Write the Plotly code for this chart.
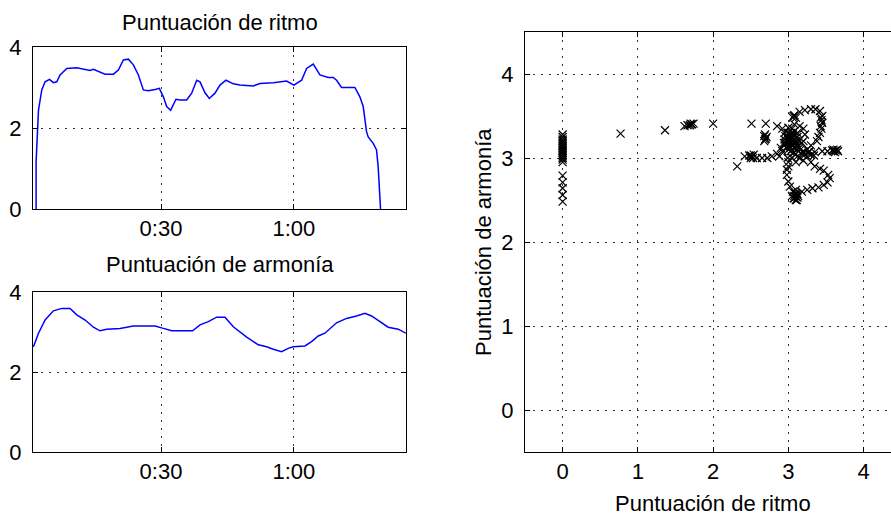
import plotly.graph_objects as go

# ---- data: rhythm score over time (seconds) ----
rhythm_t = [1.8, 1.8, 2.34, 2.7, 3.08, 3.83, 4.81, 5.71, 6.46, 7.22, 8.72, 10.98, 13.23, 13.98,
            14.74, 16.24, 17.37, 19.25, 20.37, 21.5, 22.63, 23.76, 24.89, 26.01, 27.14, 28.65,
            29.62, 30.53, 31.28, 32.18, 33.38, 34.29, 35.79, 36.92, 38.05, 38.8, 39.93, 40.9,
            42.18, 43.31, 44.66, 46.32, 47.82, 50.83, 52.33, 55.34, 58.35, 60.0, 61.73, 62.86,
            64.36, 65.87, 67.75, 68.88, 69.63, 70.75, 73.76, 74.89, 75.64, 76.39, 76.77, 77.9,
            78.65, 79.02, 79.4, 79.55]
rhythm_v = [0.0, 1.17, 2.44, 2.69, 2.94, 3.14, 3.2, 3.12, 3.14, 3.31, 3.47, 3.49, 3.44, 3.42,
            3.45, 3.39, 3.33, 3.33, 3.43, 3.68, 3.7, 3.56, 3.31, 2.94, 2.92, 2.95, 2.98, 2.77,
            2.53, 2.44, 2.71, 2.69, 2.69, 2.86, 3.18, 3.14, 2.87, 2.73, 2.86, 3.06, 3.18, 3.09,
            3.06, 3.04, 3.1, 3.12, 3.16, 3.06, 3.18, 3.47, 3.58, 3.31, 3.25, 3.25, 3.18, 3.0,
            3.0, 2.77, 2.53, 1.91, 1.78, 1.62, 1.46, 1.04, 0.39, 0.0]

# ---- data: harmony score over time (seconds) ----
harmony_t = [1.2, 2.34, 3.83, 5.71, 7.59, 9.47, 10.98, 12.86, 14.74, 16.24, 17.75, 20.75,
             23.76, 26.77, 28.65, 30.53, 32.41, 34.66, 37.14, 38.8, 40.68, 42.56, 44.44, 46.32,
             49.33, 51.96, 53.84, 55.34, 57.22, 58.72, 59.85, 62.48, 63.99, 65.49, 66.99, 69.63,
             71.88, 74.14, 76.02, 77.52, 79.4, 81.28, 83.54, 85.27]
harmony_v = [2.63, 2.97, 3.3, 3.53, 3.59, 3.59, 3.43, 3.3, 3.12, 3.03, 3.07, 3.09,
             3.15, 3.16, 3.15, 3.09, 3.03, 3.03, 3.03, 3.18, 3.26, 3.37, 3.37, 3.13,
             2.87, 2.68, 2.63, 2.57, 2.51, 2.59, 2.63, 2.65, 2.76, 2.9, 2.97, 3.23,
             3.34, 3.4, 3.47, 3.4, 3.26, 3.12, 3.07, 2.97]

# ---- data: scatter of rhythm vs harmony ----
scatter_x = [0, 0, 0, 0, 0, 0, 0, 0, 0, 0, 0, 0, 0, 0, 0, 0, 0, 0, 0, 0, 0,
             0.77, 1.36, 1.62, 1.66, 1.69, 1.70, 1.71, 1.72, 1.74, 2.0,
             2.32, 2.42, 2.48, 2.50, 2.52, 2.53, 2.54, 2.50, 2.58, 2.65, 2.72, 2.78, 2.85, 2.51,
             2.70, 2.69, 2.69, 2.70, 2.71, 2.68, 2.68, 2.85, 2.92, 2.95, 2.98, 3.0, 3.02, 3.05,
             2.95, 2.9, 3.0, 3.08, 3.1, 3.12, 3.05, 3.06, 3.07, 3.08, 3.1, 3.15, 3.22, 3.3, 3.36,
             3.42, 3.45, 3.43, 3.45, 3.44, 3.44, 3.43, 3.42, 3.4, 3.38, 3.3, 3.25, 3.22, 3.26,
             3.3, 3.18, 3.12, 3.2, 3.28, 3.35, 3.45, 3.52, 3.58, 3.6, 3.62, 3.63, 3.65, 3.66,
             3.6, 3.34, 3.3, 3.35, 3.42, 3.47, 3.53, 3.55, 3.52, 3.47, 3.4, 3.32, 3.25, 3.18,
             3.12, 3.1, 3.08, 3.11, 3.08, 3.1, 3.12, 3.1, 3.07, 3.06, 3.02, 3.0, 2.98, 2.98,
             3.0, 3.05, 3.1, 3.15, 3.2, 3.22, 3.2, 3.15, 3.08, 3.0, 2.95, 3.03, 3.12, 3.18,
             3.05, 2.92, 2.88, 3.03, 3.15, 3.2, 3.25, 2.99, 3.1, 3.13, 3.09, 3.05, 3.1, 3.0,
             2.96, 3.0, 3.06, 3.1,
             3.0, 3.02, 3.04, 3.06, 3.08, 3.1, 2.98, 3.02, 3.06, 3.1, 3.14, 3.0, 3.04, 3.08,
             2.96, 3.12, 3.16, 2.94, 3.03, 3.07, 3.11, 3.01, 3.05, 3.09]
scatter_y = [2.48, 2.56, 2.64, 2.71, 2.79, 2.95, 2.98, 3.0, 3.02, 3.04, 3.06, 3.08, 3.1, 3.12,
             3.14, 3.16, 3.18, 3.2, 3.22, 3.25, 3.28,
             3.29, 3.33, 3.38, 3.39, 3.39, 3.41, 3.4, 3.40, 3.41, 3.41,
             2.9, 3.02, 3.03, 3.03, 3.02, 3.0, 3.04, 3.0, 3.0, 3.0, 3.0, 3.02, 3.05, 3.41,
             3.41, 3.28, 3.22, 3.23, 3.25, 3.20, 3.26, 3.38, 3.35, 3.3, 3.25, 3.3, 3.2, 3.15,
             3.15, 3.12, 3.1, 3.12, 3.2, 3.3, 3.35, 3.48, 3.5, 3.51, 3.48, 3.55, 3.57, 3.58, 3.58,
             3.56, 3.5, 3.48, 3.42, 3.45, 3.35, 3.38, 3.3, 3.25, 3.2, 3.15, 3.1, 3.04, 3.06,
             3.04, 3.05, 3.02, 3.08, 3.08, 3.07, 3.08, 3.08, 3.09, 3.1, 3.07, 3.09, 3.1, 3.08,
             3.08, 3.03, 2.95, 2.9, 2.87, 2.85, 2.8, 2.76, 2.71, 2.68, 2.65, 2.64, 2.62, 2.6,
             2.57, 2.54, 2.52, 2.5, 2.55, 2.5, 2.53, 2.57, 2.52, 2.6, 2.66, 2.72, 2.8, 2.86,
             2.95, 3.0, 3.05, 3.12, 3.2, 3.28, 3.35, 3.38, 3.4, 3.36, 3.22, 3.18, 3.14, 3.18,
             3.25, 3.08, 3.02, 3.08, 3.0, 2.97, 3.02, 3.0, 2.95, 2.55, 2.58, 2.55, 2.62, 2.9,
             3.18, 3.22, 3.28, 3.24,
             3.3, 3.27, 3.24, 3.21, 3.18, 3.15, 3.12, 3.14, 3.16, 3.18, 3.2, 3.18, 3.3, 3.32,
             3.26, 3.25, 3.1, 3.18, 3.12, 3.06, 3.1, 3.24, 3.2, 3.27]

time_tickvals = [30, 60]
time_ticktext = ["0:30", "1:00"]
score_ticks_line = [0, 2, 4]
score_ticks_scatter = [0, 1, 2, 3, 4]

W, H = 891, 515
FONT = "Liberation Sans"
FS = 22

def px_x(p):
    return p / W

def px_y(p):
    return 1 - p / H

fig = go.Figure()
fig.add_trace(go.Scatter(x=rhythm_t, y=rhythm_v, mode="lines",
                         line=dict(color="#0000FF", width=1.5), xaxis="x", yaxis="y",
                         showlegend=False, hoverinfo="skip"))
fig.add_trace(go.Scatter(x=harmony_t, y=harmony_v, mode="lines",
                         line=dict(color="#0000FF", width=1.5), xaxis="x2", yaxis="y2",
                         showlegend=False, hoverinfo="skip"))
fig.add_trace(go.Scatter(x=scatter_x, y=scatter_y, mode="markers",
                         marker=dict(symbol="x-thin", size=8, line=dict(color="black", width=1.2)),
                         xaxis="x3", yaxis="y3", showlegend=False, hoverinfo="skip"))

common = dict(showline=True, linecolor="black", linewidth=1, ticks="inside", ticklen=5,
              tickcolor="black", showgrid=True, gridcolor="#333333", gridwidth=1.3,
              griddash="1.5px,6.5px", zeroline=False, automargin=False,
              tickfont=dict(family=FONT, size=FS, color="black"))

xdom_left = [px_x(33), px_x(406)]
fig.update_layout(
    width=W, height=H, autosize=False,
    margin=dict(l=0, r=0, t=0, b=0, pad=0, autoexpand=False),
    paper_bgcolor="white", plot_bgcolor="white",
    xaxis=dict(domain=xdom_left, range=[1.1, 85.3], tickvals=time_tickvals,
               ticktext=time_ticktext, anchor="y", mirror="ticks", ticklabelstandoff=0, **common),
    yaxis=dict(domain=[px_y(209), px_y(47)], range=[0, 4], tickvals=score_ticks_line,
               anchor="x", mirror="ticks", ticklabelstandoff=6, **common),
    xaxis2=dict(domain=xdom_left, range=[1.1, 85.3], tickvals=time_tickvals,
                ticktext=time_ticktext, anchor="y2", mirror="ticks", ticklabelstandoff=0, **common),
    yaxis2=dict(domain=[px_y(452), px_y(292)], range=[0, 4], tickvals=score_ticks_line,
                anchor="x2", mirror="ticks", ticklabelstandoff=6, **common),
    xaxis3=dict(domain=[px_x(525), 1.0], range=[-0.5, 4.364], tickvals=score_ticks_scatter,
                anchor="y3", mirror="ticks", ticklabelstandoff=0, **common),
    yaxis3=dict(domain=[px_y(452), px_y(32)], range=[-0.5, 4.5], tickvals=score_ticks_scatter,
                anchor="x3", mirror=False, ticklabelstandoff=6, **common),
)

ann_font = dict(family=FONT, size=FS, color="black")
fig.add_annotation(text="Puntuación de ritmo", x=px_x(219.5), y=px_y(22), xref="paper", yref="paper",
                   showarrow=False, font=ann_font, xanchor="center", yanchor="middle")
fig.add_annotation(text="Puntuación de armonía", x=px_x(219.5), y=px_y(264), xref="paper", yref="paper",
                   showarrow=False, font=ann_font, xanchor="center", yanchor="middle")
fig.add_annotation(text="Puntuación de ritmo", x=px_x(713), y=px_y(503), xref="paper", yref="paper",
                   showarrow=False, font=ann_font, xanchor="center", yanchor="middle")
fig.add_annotation(text="Puntuación de armonía", x=px_x(484), y=px_y(242), xref="paper", yref="paper",
                   showarrow=False, font=ann_font, xanchor="center", yanchor="middle", textangle=-90)

fig.write_html("out.html")
